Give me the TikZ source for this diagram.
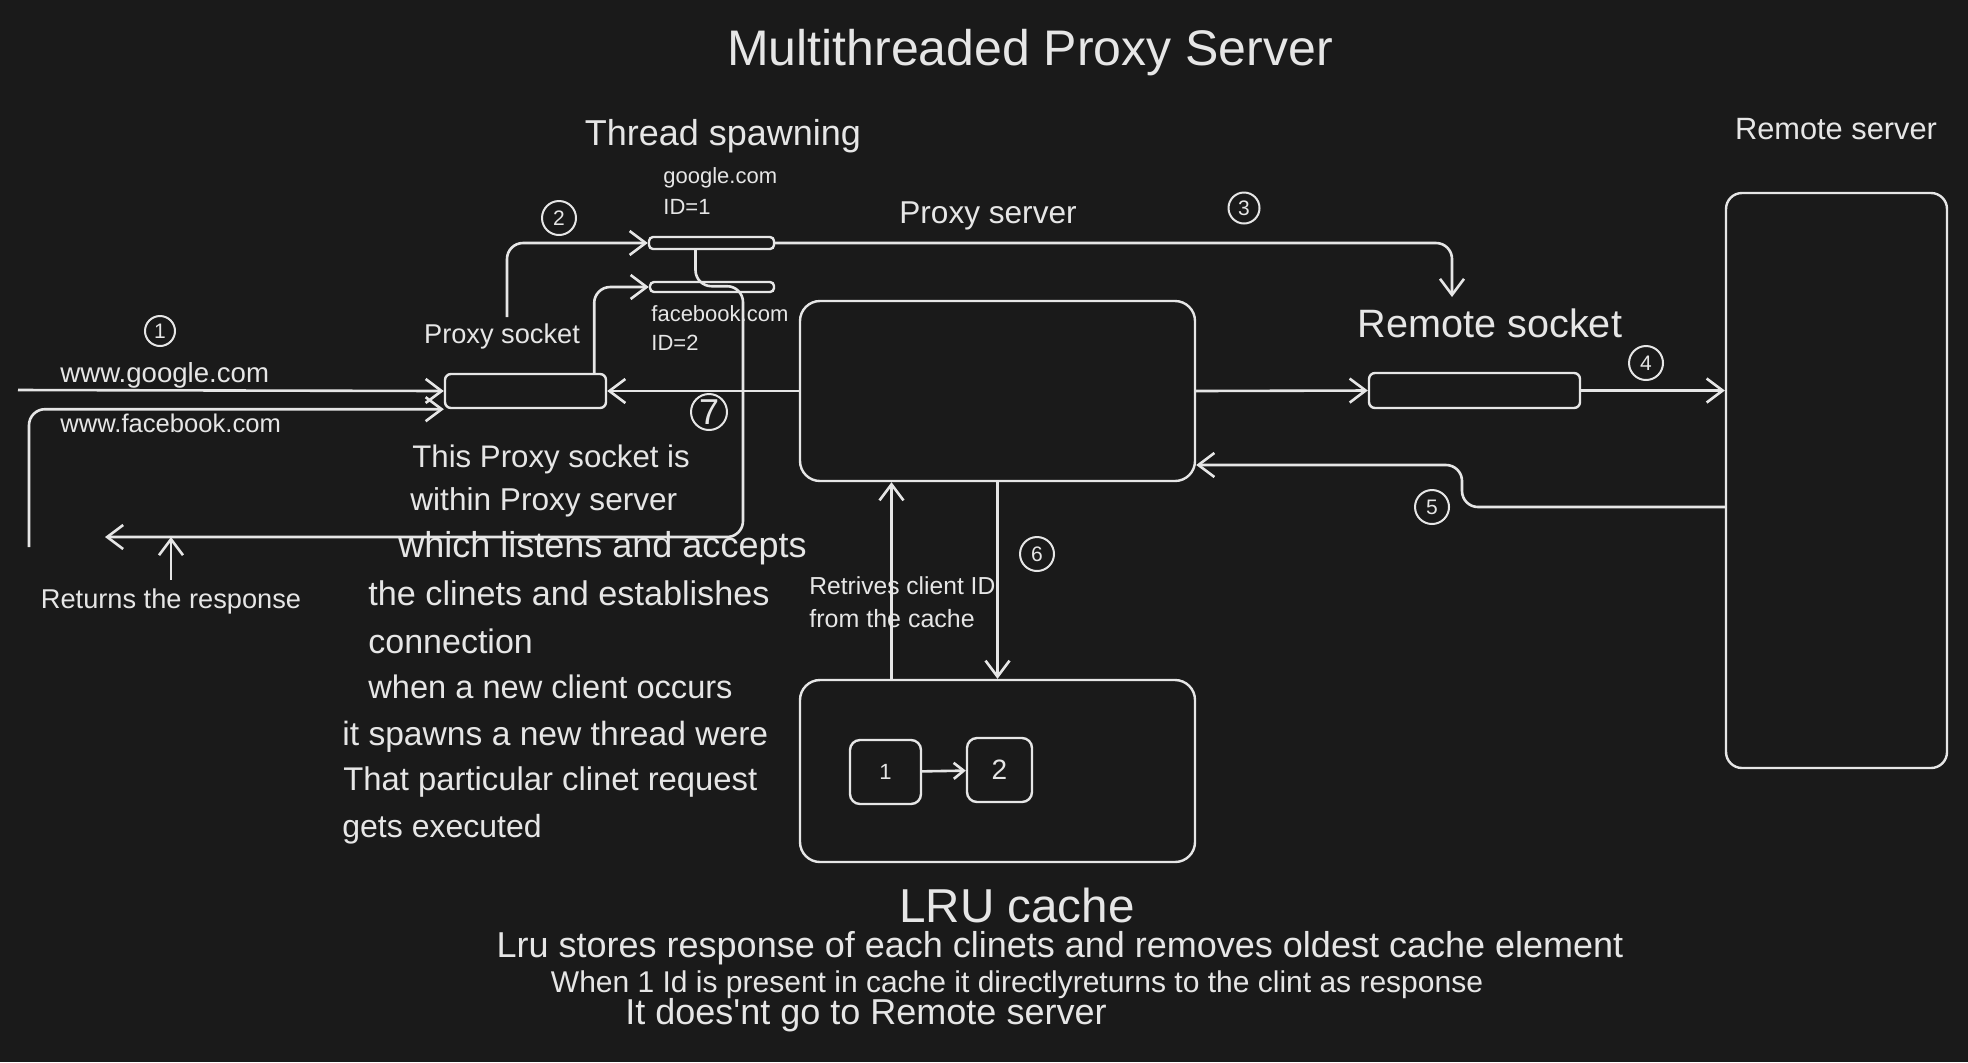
\documentclass[tikz,border=0pt]{standalone}
\usepackage{fontspec}
\setmainfont{Liberation Sans}
\usetikzlibrary{arrows.meta}
\definecolor{bgdark}{HTML}{1A1A1A}
\definecolor{inkwhite}{HTML}{E6E6E6}
\begin{document}
\begin{tikzpicture}[x=0.5pt,y=-0.5pt,
    every node/.style={text=inkwhite,inner sep=0pt},
    line/.style={draw=inkwhite,line width=1.3pt},
    arr/.style={line,-{Straight Barb[length=8pt,width=12pt]}},
    box/.style={draw=inkwhite,line width=1.2pt,rounded corners=#1},
    box/.default=6pt,
    num/.style={circle,draw=inkwhite,line width=1pt,font=\fontsize{10.5}{12}\selectfont},
    lbl/.style={font=\fontsize{#1}{#1}\selectfont}]
  \fill[bgdark] (0,0) rectangle (1968,1062);

  % boxes
  \node[box=10pt,minimum width=197.5pt,minimum height=90pt] (psrv) at (997.5,391) {};
  \node[box=10pt,minimum width=197.5pt,minimum height=91pt] (lru) at (997.5,771) {};
  \node[box=8pt,minimum width=110.5pt,minimum height=287.5pt] (rsrv) at (1836.5,480.5) {};
  \node[box=3pt,minimum width=80.5pt,minimum height=17pt] (psock) at (525.5,391) {};
  \node[box=3pt,minimum width=105.5pt,minimum height=17.5pt] (rsock) at (1474.5,390.5) {};
  \node[box=2pt,minimum width=62.5pt,minimum height=6pt] (bar1) at (711.5,243) {};
  \node[box=2pt,minimum width=62pt,minimum height=5pt] (bar2) at (712,287) {};
  \node[box=5pt,minimum width=35.5pt,minimum height=32pt,lbl=11] (b1) at (885.5,772) {1};
  \node[box=5pt,minimum width=32.5pt,minimum height=32pt,lbl=14] (b2) at (999.5,770) {2};

  % step numbers
  \node[num,minimum size=15pt] (n1) at (160,331) {1};
  \node[num,minimum size=17pt] (n2) at (559,218) {2};
  \node[num,minimum size=15.5pt] (n3) at (1244,208) {3};
  \node[num,minimum size=17pt] (n4) at (1646,363) {4};
  \node[num,minimum size=17pt] (n5) at (1432,507) {5};
  \node[num,minimum size=17pt] (n6) at (1037,554) {6};
  \node[num,minimum size=18pt,font=\fontsize{18}{18}\selectfont] (n7) at (709,412) {7};

  % labels
  \node[lbl=25,anchor=base] (title) at (1030,65) {Multithreaded Proxy Server};
  \node[lbl=18,anchor=base] (spawn) at (723,145) {Thread spawning};
  \node[lbl=11,anchor=base west] (gname) at (663,183) {google.com};
  \node[lbl=11,anchor=base west] (gid) at (663,214) {ID=1};
  \node[lbl=11,anchor=base west] (fname) at (651,321) {facebook.com};
  \node[lbl=11,anchor=base west] (fid) at (651,350) {ID=2};
  \node[lbl=15.8,anchor=base] (psrvlbl) at (988,223) {Proxy server};
  \node[lbl=15.4,anchor=base] (rsrvlbl) at (1836,139) {Remote server};
  \node[lbl=19.8,anchor=base] (rsocklbl) at (1490,337) {Remote socket};
  \node[lbl=13.6,anchor=base] (psocklbl) at (502,343) {Proxy socket};
  \node[lbl=13.8,anchor=base west] (gurl) at (60,382) {www.google.com};
  \node[lbl=12.8,anchor=base west] (furl) at (60,432) {www.facebook.com};
  \node[lbl=13.6,anchor=base] (resp) at (171,608) {Returns the response};
  \node[lbl=12.3,anchor=base west] (fetch1) at (809,594) {Retrives client ID};
  \node[lbl=12.5,anchor=base west] (fetch2) at (809,627) {from the cache};
  \node[lbl=23.8,anchor=base] (lrulbl) at (1017,922) {LRU cache};
  \node[lbl=18,anchor=base] (note1) at (1060,957) {Lru stores response of each clinets and removes oldest cache element};
  \node[lbl=15,anchor=base] (note2) at (1017,992) {When 1 Id is present in cache it directlyreturns to the clint as response};
  \node[lbl=18,anchor=base] (note3) at (866,1024) {It does\textquotesingle nt go to Remote server};
  \foreach \xx/\yy/\sz/\txt in {412/467/15.6/This Proxy socket is,
      410/510/15.8/within Proxy server,
      398/557/18/which listens and accepts,
      368/605/17.1/the clinets and establishes,
      368/653/17/connection,
      368/698/16.3/when a new client occurs,
      342/745/16.8/it spawns a new thread were,
      343/790/16.4/That particular clinet request,
      342/837/16/gets executed}
    \node[lbl=\sz,anchor=base west] at (\xx,\yy) {\txt};

  % requests coming in
  \coordinate (g0) at (18,390);
  \coordinate (f0) at (29,547);
  \draw[arr] (g0) -- (psock.west);
  \draw[arr,rounded corners=8pt] (f0) |- (psock.south west);

  % thread spawning
  \coordinate (a2) at (507,317);
  \draw[arr,rounded corners=8pt] (a2) |- (bar1.west);
  \draw[arr,rounded corners=8pt] (psock.north east) ++(-13,0) |- (bar2.west);
  \coordinate (r3) at (1452,297);
  \draw[arr,rounded corners=8pt] (bar1.east) -| (r3);

  % response going back
  \coordinate (ret) at (105,537);
  \draw[arr,rounded corners=8pt] (bar1.south) ++(-16,0) -- ++(0,36) -| (743,537) -- (ret);
  \draw[arr] (resp.north) ++(0,-8) -- (resp.north |- ret);

  % proxy server and remote side
  \draw[arr] (psrv.west) -- (psock.east);
  \draw[arr] (psrv.east) -- (rsock.west);
  \draw[arr] (rsock.east) -- (rsrv.west |- rsock.east);
  \coordinate (r5) at (1462,465);
  \draw[arr,rounded corners=8pt] (rsrv.west |- n5) -| (r5) -- (psrv.east |- r5);

  % cache
  \draw[arr] (psrv.south) -- (lru.north);
  \path (lru.north) ++(-106,0) coordinate (u0);
  \draw[arr] (u0) -- (u0 |- psrv.south);
  \draw[line,-{Straight Barb[length=5pt,width=8pt]}] (b1) -- (b2);
\end{tikzpicture}
\end{document}
